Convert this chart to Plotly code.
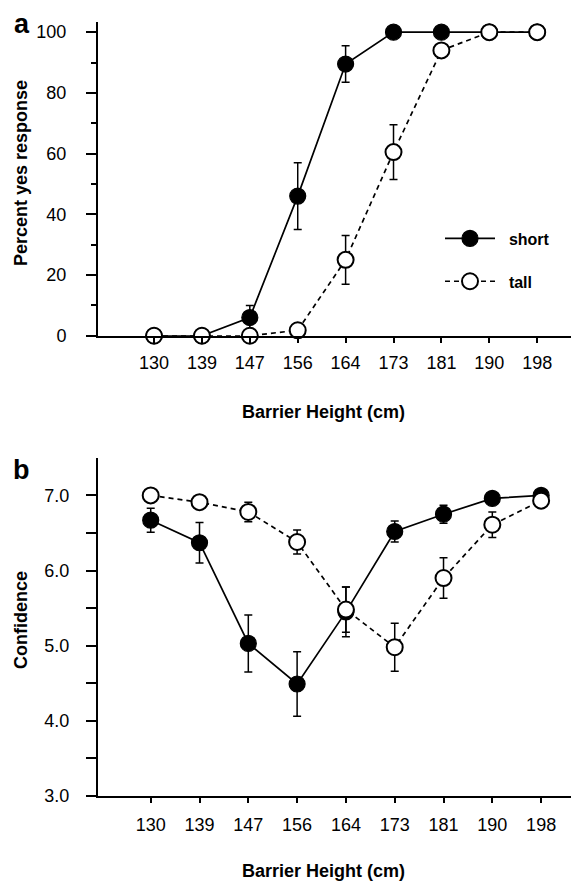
import plotly.graph_objects as go

# ---------------- data ----------------
heights = ["130", "139", "147", "156", "164", "173", "181", "190", "198"]

yes_short = [0, 0, 6, 46, 89.5, 100, 100, 100, 100]
yes_short_err = [0, 0, 4, 11, 6, 0, 0, 0, 0]
yes_tall = [0, 0, 0, 1.8, 25, 60.5, 94, 100, 100]
yes_tall_err = [0, 0, 0, 0, 8, 9, 2, 0, 0]

conf_short = [6.67, 6.37, 5.03, 4.49, 5.45, 6.52, 6.75, 6.96, 7.0]
conf_short_err = [0.16, 0.27, 0.38, 0.43, 0.33, 0.14, 0.12, 0.05, 0.03]
conf_tall = [7.0, 6.91, 6.78, 6.38, 5.48, 4.98, 5.9, 6.61, 6.93]
conf_tall_err = [0.05, 0.04, 0.13, 0.16, 0.3, 0.32, 0.27, 0.17, 0.02]

series_names = ["short", "tall"]

W, H = 579, 882
FONT = "Liberation Sans, Arial, Helvetica, sans-serif"


def px_x(p):
    return p / W


def px_y(p):
    return 1 - p / H


fig = go.Figure()


def add_series(xa, ya, y, err, filled, name, show):
    fig.add_trace(go.Scatter(
        x=heights, y=y, xaxis=xa, yaxis=ya, name="\u00a0\u00a0" + name,
        legendgroup=name, showlegend=show,
        mode="lines+markers", cliponaxis=False,
        line=dict(color="black", width=1.7, dash="solid" if filled else "5px,4px"),
        marker=dict(size=16, color="black" if filled else "white",
                    line=dict(color="black", width=1.2 if filled else 2)),
        error_y=dict(type="data", array=err, visible=True, color="black",
                     thickness=1.5, width=4),
    ))


add_series("x", "y", yes_short, yes_short_err, True, series_names[0], True)
add_series("x", "y", yes_tall, yes_tall_err, False, series_names[1], True)
add_series("x2", "y2", conf_short, conf_short_err, True, series_names[0], False)
add_series("x2", "y2", conf_tall, conf_tall_err, False, series_names[1], False)

axis_common = dict(showline=True, linecolor="black", linewidth=2,
                   showgrid=False, zeroline=False, ticks="outside",
                   tickcolor="black", tickwidth=1.5,
                   tickfont=dict(family=FONT, size=18, color="black"))

fig.update_layout(
    width=W, height=H,
    margin=dict(l=0, r=0, t=0, b=0),
    paper_bgcolor="white", plot_bgcolor="white",
    font=dict(family=FONT, color="black"),
    xaxis=dict(axis_common, domain=[px_x(90), 1], anchor="y",
               type="category", range=[-1.17, 9.04], ticklen=5,
               ticklabelstandoff=5),
    yaxis=dict(axis_common, domain=[px_y(331.5), px_y(14)], anchor="x",
               range=[0, 103.4], tickvals=[0, 20, 40, 60, 80, 100],
               ticklen=10, ticklabelstandoff=16,
               minor=dict(tickvals=[10, 30, 50, 70, 90], ticks="outside",
                          ticklen=5, tickcolor="black", tickwidth=1.5)),
    xaxis2=dict(axis_common, domain=[px_x(90), 1], anchor="y2",
                type="category", range=[-1.08, 8.94], ticklen=5,
                ticklabelstandoff=6),
    yaxis2=dict(axis_common, domain=[px_y(797), px_y(455)], anchor="x2",
                range=[3.0, 7.5], tickvals=[3, 4, 5, 6, 7], tickformat=".1f",
                ticklen=10, ticklabelstandoff=13,
                minor=dict(tickvals=[3.5, 4.5, 5.5, 6.5], ticks="outside",
                           ticklen=10, tickcolor="black", tickwidth=1.5)),
    legend=dict(x=px_x(432), y=px_y(216), xanchor="left", yanchor="top",
                bgcolor="rgba(0,0,0,0)", itemwidth=50, tracegroupgap=19,
                font=dict(family=FONT, size=16, color="black", weight="bold")),
)

bold = dict(family=FONT, size=18, color="black", weight="bold")
annos = [
    dict(text="Barrier Height (cm)", x=px_x(315), y=px_y(409), font=bold),
    dict(text="Barrier Height (cm)", x=px_x(315), y=px_y(873), font=bold),
    dict(text="Percent yes response", x=px_x(13), y=px_y(167), font=bold, textangle=-90),
    dict(text="Confidence", x=px_x(13), y=px_y(619), font=bold, textangle=-90),
    dict(text="a", x=px_x(14), y=px_y(16), font=dict(bold, size=27)),
    dict(text="b", x=px_x(13), y=px_y(467), font=dict(bold, size=27)),
]
for a in annos:
    fig.add_annotation(xref="paper", yref="paper", showarrow=False,
                       xanchor="center", yanchor="middle", **a)

fig.write_html("out.html")
